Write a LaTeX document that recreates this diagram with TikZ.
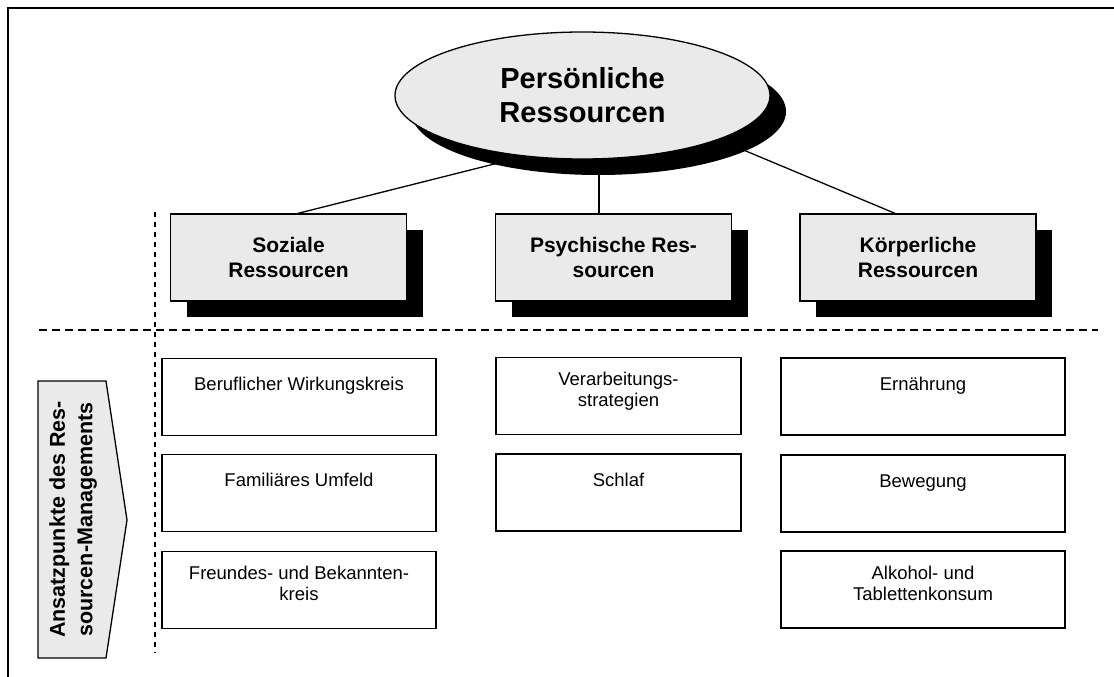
\documentclass[tikz,border=0pt]{standalone}
\usepackage{fontspec}
\setmainfont{Liberation Sans}
\usetikzlibrary{shapes.geometric,shadows,calc,backgrounds}

\definecolor{boxgray}{RGB}{234,234,234}

% text block of a lower box, set from its top edge
\newcommand\lowtext[3][32]{\parbox[c][77pt][t]{#2pt}{\centering\rule{0pt}{#1pt}#3}}

\begin{document}
\begin{tikzpicture}[x=1pt,y=-1pt,
  blackshadow/.style={drop shadow={shadow xshift=16pt,shadow yshift=-16pt,fill=black,opacity=1}},
  topnode/.style={ellipse,draw,line width=1.3pt,fill=boxgray,blackshadow,
    minimum width=375pt,minimum height=127pt,inner sep=0pt,align=center,
    font=\fontsize{29pt}{34pt}\selectfont\bfseries},
  areabox/.style={rectangle,draw,line width=1.3pt,fill=boxgray,blackshadow,
    minimum width=236pt,minimum height=87pt,inner sep=0pt,align=center,
    font=\fontsize{21pt}{25pt}\selectfont\bfseries},
  lowbox/.style={rectangle,draw,line width=1.3pt,fill=white,inner sep=0pt,
    font=\fontsize{18.5pt}{21pt}\selectfont},
  link/.style={line width=1.3pt},
  sep/.style={line width=1.3pt,dash pattern=on 8pt off 5pt},
]
\useasboundingbox (0,0) rectangle (1114,677);

% frame
\draw[line width=1.5pt] (8,677) -- (8,8) -- (1114,8);

% separators
\draw[sep] (39,330) -- (1098,330);
\draw[line width=1.3pt,dash pattern=on 5pt off 5pt] (155,212) -- (155,653);

% main node and the three resource areas
\node[topnode] (main) at (582.5,95.5) {Persönliche\\Ressourcen};
\node[areabox] (soz) at (288.5,257.5) {Soziale\\Ressourcen};
\node[areabox] (psy) at (613.5,257.5) {Psychische Res-\\sourcen};
\node[areabox] (koe) at (918,257.5) {Körperliche\\Ressourcen};

\begin{scope}[on background layer]
  \draw[link] ($(main.center)+(-62.5,62)$) -- ($(soz.north)+(9.5,0)$);
  \draw[link] ($(main.center)+(16.5,55)$) -- ($(psy.north)+(-14.5,0)$);
  \draw[link] ($(main.center)+(137.5,44.7)$) -- ($(koe.north)+(-23,0)$);
\end{scope}

% side arrow
\draw[line width=1.3pt,fill=boxgray] (38,381) -- (106,381) -- (127,520) -- (106,658) -- (38,658) -- cycle;
\node[rotate=90,align=center,font=\fontsize{21.5pt}{27.5pt}\selectfont\bfseries] (side) at (73,519.5)
  {Ansatzpunkte des Res-\\sourcen-Managements};

% starting points: social
\node[lowbox] (s1) at (299,397) {\lowtext{274}{Beruflicher Wirkungskreis}};
\node[lowbox] (s2) at (299,493) {\lowtext{274}{Familiäres Umfeld}};
\node[lowbox] (s3) at (299,590) {\lowtext[28]{274}{Freundes- und Bekannten-\\kreis}};

% starting points: psychological
\node[lowbox] (p1) at (618.5,396) {\lowtext[28]{245}{Verarbeitungs-\\strategien}};
\node[lowbox] (p2) at (618.5,492.5) {\lowtext{245}{Schlaf}};

% starting points: physical
\node[lowbox] (k1) at (923,396.5) {\lowtext{284}{Ernährung}};
\node[lowbox] (k2) at (923,493.5) {\lowtext{284}{Bewegung}};
\node[lowbox] (k3) at (923,589.5) {\lowtext[28]{284}{Alkohol- und\\Tablettenkonsum}};
\end{tikzpicture}
\end{document}
